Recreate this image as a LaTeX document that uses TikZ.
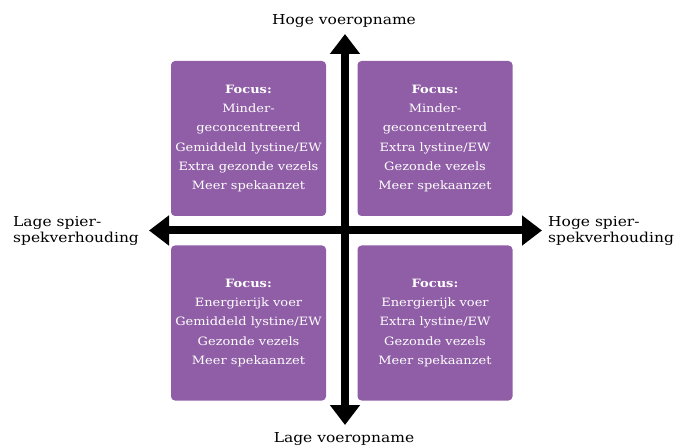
\documentclass[tikz,border=0pt]{standalone}
\usepackage{fontspec}
\setmainfont{DejaVu Serif}[FakeStretch=1.13]
\usetikzlibrary{arrows.meta}
\definecolor{boxpurple}{RGB}{144,94,166}
\begin{document}
\begin{tikzpicture}[x=1pt,y=-1pt,
  quad/.style={fill=boxpurple, rounded corners=4pt, minimum width=155pt, minimum height=155pt, inner sep=0pt, text=white, align=center, font=\fontsize{11.5}{19.3}\selectfont},
  axis/.style={line width=8pt, {Triangle[length=20pt,width=29pt]}-{Triangle[length=20pt,width=29pt]}},
  outer/.style={font=\fontsize{13.7}{16.2}\selectfont, inner sep=0pt, align=left}]
\useasboundingbox (0,0) rectangle (688,446);
\node[quad] (tl) at (248.5,138.5) {\textbf{Focus:}\\Minder-\\geconcentreerd\\Gemiddeld lystine/EW\\Extra gezonde vezels\\Meer spekaanzet};
\node[quad] (tr) at (435,138.5) {\textbf{Focus:}\\Minder-\\geconcentreerd\\Extra lystine/EW\\Gezonde vezels\\Meer spekaanzet};
\node[quad] (bl) at (248.5,323) {\textbf{Focus:}\\Energierijk voer\\Gemiddeld lystine/EW\\Gezonde vezels\\Meer spekaanzet};
\node[quad] (br) at (435,323) {\textbf{Focus:}\\Energierijk voer\\Extra lystine/EW\\Gezonde vezels\\Meer spekaanzet};
\coordinate (vtop) at (345,34);
\coordinate (vbot) at (345,425);
\coordinate (hleft) at (149,230.5);
\coordinate (hright) at (542,230.5);
\draw[axis] (vtop) -- (vbot);
\draw[axis] (hleft) -- (hright);
\node[outer, anchor=base] (ltop) at (344,25) {Hoge voeropname};
\node[outer, anchor=base] (lbot) at (344,442) {Lage voeropname};
\node[outer, anchor=west] (lleft) at (13,231) {Lage spier-\\spekverhouding};
\node[outer, anchor=west] (lright) at (548,231) {Hoge spier-\\spekverhouding};
\end{tikzpicture}
\end{document}
